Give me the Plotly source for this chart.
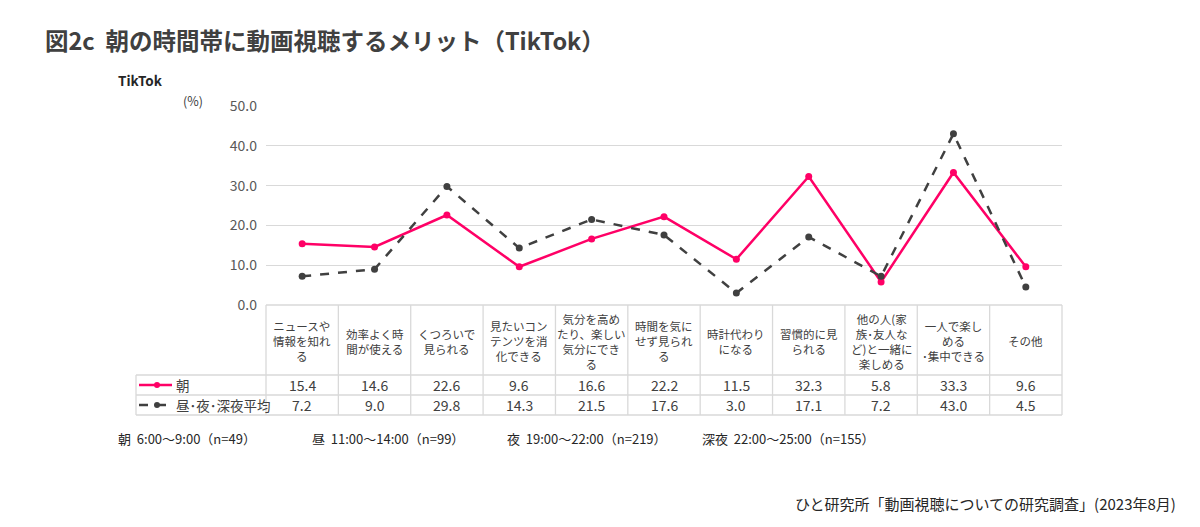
import plotly.graph_objects as go

categories = [
    "ニュースや<br>情報を知れ<br>る",
    "効率よく時<br>間が使える",
    "くつろいで<br>見られる",
    "見たいコン<br>テンツを消<br>化できる",
    "気分を高め<br>たり、楽しい<br>気分にでき<br>る",
    "時間を気に<br>せず見られ<br>る",
    "時計代わり<br>になる",
    "習慣的に見<br>られる",
    "他の人(家<br>族･友人な<br>ど)と一緒に<br>楽しめる",
    "一人で楽し<br>める<br>･集中できる",
    "その他",
]
series_names = ["朝", "昼･夜･深夜平均"]
morning = [15.4, 14.6, 22.6, 9.6, 16.6, 22.2, 11.5, 32.3, 5.8, 33.3, 9.6]
others = [7.2, 9.0, 29.8, 14.3, 21.5, 17.6, 3.0, 17.1, 7.2, 43.0, 4.5]
y_ticks = [0, 10, 20, 30, 40, 50]
footnotes = ["朝  6:00～9:00（n=49）", "昼  11:00～14:00（n=99）", "夜  19:00～22:00（n=219）", "深夜  22:00～25:00（n=155）"]
title_text = "図2c  朝の時間帯に動画視聴するメリット（TikTok）"
source_text = "ひと研究所「動画視聴についての研究調査」(2023年8月)"

PINK = "#FF0066"
DARK = "#404040"
GRID = "#D9D9D9"
TXT = "#404040"
FONT = "Noto Sans CJK JP, Noto Sans, sans-serif"

OFF = 8  # page body margin
W, H = 1200 - OFF, 527 - OFF
# plot area in reference (page) pixels
L, R, T, B = 266, 1062, 106, 305
pw, ph = R - L, B - T
n = len(categories)

def px(x):
    return (x - L) / pw

def py(y):
    return (B - y) / ph

xs = list(range(n))
fig = go.Figure()
fig.add_trace(go.Scatter(x=xs, y=morning, mode="lines+markers", name=series_names[0],
                         line=dict(color=PINK, width=2.5), marker=dict(size=7, color=PINK)))
fig.add_trace(go.Scatter(x=xs, y=others, mode="lines+markers", name=series_names[1],
                         line=dict(color=DARK, width=2.5, dash="dash"), marker=dict(size=7, color=DARK)))

shapes = []
ann = []

row_lines = [375, 395, 415]
left_edge = 136
shapes.append(dict(type="line", xref="paper", yref="paper", x0=0, x1=1, y0=py(305), y1=py(305),
                   line=dict(color=GRID, width=1.3)))
for yy in row_lines:
    shapes.append(dict(type="line", xref="paper", yref="paper", x0=px(left_edge), x1=1, y0=py(yy), y1=py(yy),
                       line=dict(color=GRID, width=1.3)))
for k in range(n + 1):
    xk = k / n
    shapes.append(dict(type="line", xref="paper", yref="paper", x0=xk, x1=xk, y0=py(305), y1=py(415),
                       line=dict(color=GRID, width=1.3)))
shapes.append(dict(type="line", xref="paper", yref="paper", x0=px(left_edge), x1=px(left_edge),
                   y0=py(375), y1=py(415), line=dict(color=GRID, width=1.3)))

for k, c in enumerate(categories):
    ann.append(dict(text=c, xref="paper", yref="paper", x=(k + 0.5) / n, y=py(341),
                    showarrow=False, xanchor="center", yanchor="middle", align="center",
                    font=dict(size=11.5, color=TXT, family=FONT)))
for vals, yy in [(morning, 385), (others, 405)]:
    for k, v in enumerate(vals):
        ann.append(dict(text=f"{v:.1f}", xref="paper", yref="paper", x=(k + 0.5) / n, y=py(yy),
                        showarrow=False, xanchor="center", yanchor="middle",
                        font=dict(size=14, color=TXT, family=FONT)))

for name, color, dash, yy in [(series_names[0], PINK, "solid", 385), (series_names[1], DARK, "dash", 405)]:
    shapes.append(dict(type="line", xref="paper", yref="paper", x0=px(139), x1=px(172), y0=py(yy), y1=py(yy),
                       line=dict(color=color, width=2.5, dash=dash)))
    shapes.append(dict(type="circle", xref="paper", yref="paper", x0=px(154), x1=px(160),
                       y0=py(yy + 3), y1=py(yy - 3), fillcolor=color, line=dict(color=color, width=0)))
    ann.append(dict(text=name, xref="paper", yref="paper", x=px(174), y=py(yy), showarrow=False,
                    xanchor="left", yanchor="middle", font=dict(size=13.5, color=TXT, family=FONT)))

ann.append(dict(text="<b>" + title_text + "</b>", xref="paper", yref="paper", x=px(43), y=py(40),
                showarrow=False, xanchor="left", yanchor="middle", font=dict(size=23.5, color="#404040", family=FONT)))
ann.append(dict(text="<b>TikTok</b>", xref="paper", yref="paper", x=px(116), y=py(80),
                showarrow=False, xanchor="left", yanchor="middle", font=dict(size=13.5, color="#262626", family=FONT)))
ann.append(dict(text="(%)", xref="paper", yref="paper", x=px(181), y=py(100),
                showarrow=False, xanchor="left", yanchor="middle", font=dict(size=12.5, color=TXT, family=FONT)))
for text, xx in zip(footnotes, [116, 310, 505, 700]):
    ann.append(dict(text=text, xref="paper", yref="paper", x=px(xx), y=py(438),
                    showarrow=False, xanchor="left", yanchor="middle", font=dict(size=13, color="#262626", family=FONT)))
ann.append(dict(text=source_text, xref="paper", yref="paper", x=px(1178), y=py(503),
                showarrow=False, xanchor="right", yanchor="middle", font=dict(size=15, color="#262626", family=FONT)))

fig.update_layout(
    width=W, height=H,
    margin=dict(l=L - OFF, r=(1200 - R), t=T - OFF, b=(527 - B)),
    plot_bgcolor="white", paper_bgcolor="white",
    showlegend=False,
    shapes=shapes, annotations=ann,
    font=dict(family=FONT, color=TXT),
)
fig.update_xaxes(range=[-0.5, n - 0.5], showticklabels=False, showgrid=False, zeroline=False, showline=False, ticks="")
fig.update_yaxes(range=[0, 50], tickvals=y_ticks, tickformat=".1f", showgrid=True, gridcolor=GRID, gridwidth=1,
                 zeroline=False, showline=False, ticks="", ticklabelstandoff=8,
                 tickfont=dict(size=14, color="#595959", family=FONT))

fig.write_html("out.html")
